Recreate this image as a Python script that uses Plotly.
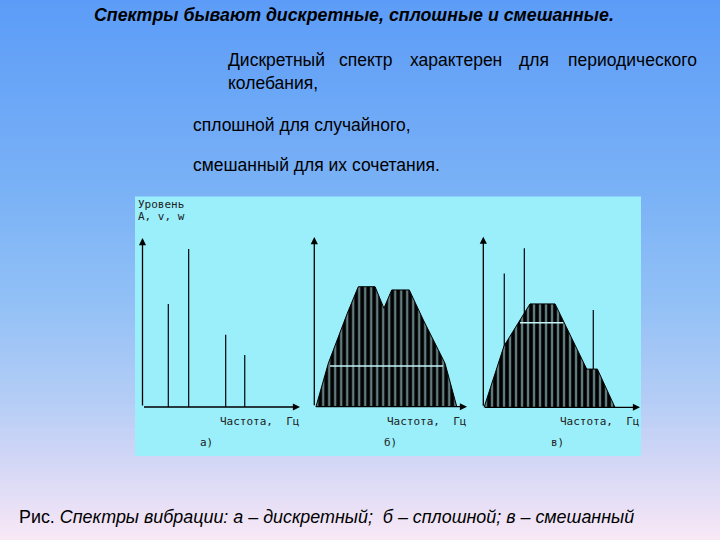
import plotly.graph_objects as go

W, H = 720, 540

# ---------------- data (frequency / level in relative units, axis arrow = 100) ----------------
# a) discrete spectrum
a_freq = [16.4, 29.3, 52.8, 64.9]
a_level = [61.0, 93.5, 42.8, 30.8]

# b) continuous spectrum envelope
b_freq = [1.1, 9.2, 21.6, 28.8, 39.8, 45.6, 50.7, 62.2, 71.4, 85.6, 93.3]
b_level = [0, 25.6, 55.0, 70.7, 70.7, 58.0, 68.8, 68.8, 51.1, 25.6, 0]
b_hline_freq = [10.3, 84.3]
b_hline_level = 24.0

# c) mixed spectrum: envelope + discrete components
c_freq = [0.5, 13.2, 29.8, 45.8, 66.0, 72.8, 84.0]
c_level = [0, 35.9, 60.6, 60.6, 22.4, 22.4, 0]
c_lines_freq = [13.4, 26.2, 70.2]
c_lines_level = [78.5, 93.2, 57.0]
c_hline_freq = [23.4, 50.9]
c_hline_level = 49.6

panel_letters = ["а)", "б)", "в)"]
x_label = "Частота,  Гц"
y_label = ["Уровень", "A, v, w"]

title_text = "Спектры бывают дискретные, сплошные и смешанные."
line1_words = ["Дискретный", "спектр", "характерен", "для", "периодического"]
line2_text = "колебания,"
line3_text = "сплошной для случайного,"
line4_text = "смешанный для их сочетания."
caption_plain = "Рис."
caption_italic = "Спектры вибрации: а – дискретный;  б – сплошной; в – смешанный"

# ---------------- layout geometry (pixels) ----------------
panels = [
    dict(ox=142.5, oy=407.0, sx=1.575, sy=1.69, letter_x=207),
    dict(ox=314.3, oy=406.7, sx=1.527, sy=1.697, letter_x=390),
    dict(ox=483.3, oy=407.3, sx=1.567, sy=1.706, letter_x=557),
]
XR = [-4, 104]
YR = [-6, 104]

def fx(px):
    return px / W

def fy(py):
    return 1 - py / H

fig = go.Figure()
layout_axes = {}
for i, p in enumerate(panels):
    n = "" if i == 0 else str(i + 1)
    xd = [fx(p["ox"] + XR[0] * p["sx"]), fx(p["ox"] + XR[1] * p["sx"])]
    yd = [fy(p["oy"] - YR[0] * p["sy"]), fy(p["oy"] - YR[1] * p["sy"])]
    layout_axes["xaxis" + n] = dict(domain=xd, range=XR, visible=False, fixedrange=True,
                                    anchor="y" + n)
    layout_axes["yaxis" + n] = dict(domain=yd, range=YR, visible=False, fixedrange=True,
                                    anchor="x" + n)

LINE_COL = "#0d1620"
STRIPE_COL = "#c0f4fa"
PANEL_BG = "#9aeffb"

def vlines(xs, ys):
    X, Y = [], []
    for x, y in zip(xs, ys):
        X += [x, x, None]
        Y += [0, y, None]
    return X, Y

PATTERN = dict(shape="|", fgcolor=STRIPE_COL, bgcolor="#000000", size=6, solidity=0.4)

# a) discrete lines
X, Y = vlines(a_freq, a_level)
fig.add_trace(go.Scatter(x=X, y=Y, mode="lines", line=dict(color=LINE_COL, width=1.3),
                         xaxis="x", yaxis="y", hoverinfo="skip"))

# b) continuous spectrum
fig.add_trace(go.Scatter(x=b_freq, y=b_level, mode="lines", fill="toself",
                         line=dict(color="#000000", width=1),
                         fillcolor="#000000", fillpattern=PATTERN,
                         xaxis="x2", yaxis="y2", hoverinfo="skip"))
fig.add_trace(go.Scatter(x=b_hline_freq, y=[b_hline_level] * 2, mode="lines",
                         line=dict(color="#c4f4f8", width=1.5),
                         xaxis="x2", yaxis="y2", hoverinfo="skip"))

# c) mixed: discrete lines under the envelope
X, Y = vlines(c_lines_freq, c_lines_level)
fig.add_trace(go.Scatter(x=X, y=Y, mode="lines", line=dict(color=LINE_COL, width=1.3),
                         xaxis="x3", yaxis="y3", hoverinfo="skip"))
fig.add_trace(go.Scatter(x=c_freq, y=c_level, mode="lines", fill="toself",
                         line=dict(color="#000000", width=1),
                         fillcolor="#000000", fillpattern=PATTERN,
                         xaxis="x3", yaxis="y3", hoverinfo="skip"))
fig.add_trace(go.Scatter(x=c_hline_freq, y=[c_hline_level] * 2, mode="lines",
                         line=dict(color="#c4f4f8", width=1.5),
                         xaxis="x3", yaxis="y3", hoverinfo="skip"))

# ---------------- background gradient + panel ----------------
stops = [(0, (92, 156, 248)), (200, (124, 179, 246)), (300, (145, 192, 246)),
         (400, (180, 205, 246)), (470, (215, 216, 246)), (540, (248, 232, 246))]

def grad(y):
    for (y0, c0), (y1, c1) in zip(stops[:-1], stops[1:]):
        if y0 <= y <= y1:
            t = (y - y0) / (y1 - y0)
            return "rgb(%d,%d,%d)" % tuple(round(a + (b - a) * t) for a, b in zip(c0, c1))
    return "rgb(%d,%d,%d)" % stops[-1][1]

shapes = []
band = 4
for k in range(0, H, band):
    shapes.append(dict(type="rect", xref="paper", yref="paper", x0=0, x1=1,
                       y0=fy(k + band), y1=fy(k), fillcolor=grad(k + band / 2),
                       line=dict(width=0), layer="below"))
shapes.append(dict(type="rect", xref="paper", yref="paper", x0=fx(135), x1=fx(641),
                   y0=fy(456), y1=fy(196.5), fillcolor=PANEL_BG, line=dict(width=0),
                   layer="below"))

# ---------------- annotations ----------------
ann = []
MONO = "DejaVu Sans Mono"
MONO_FONT = dict(family=MONO, size=11, color="#222222")
for i, p in enumerate(panels):
    n = "" if i == 0 else str(i + 1)
    for hx, hy in ((0, 100), (100, 0)):
        ann.append(dict(x=hx, y=hy, ax=0, ay=0, xref="x" + n, yref="y" + n,
                        axref="x" + n, ayref="y" + n, text="", showarrow=True,
                        arrowhead=2, arrowsize=1.1, arrowwidth=1.3, arrowcolor="#000000",
                        standoff=0, startstandoff=0))
    ax_end = p["ox"] + 100 * p["sx"]
    ann.append(dict(x=fx(ax_end + 1), y=fy(421), xref="paper", yref="paper",
                    text=x_label, showarrow=False, xanchor="right", yanchor="middle",
                    font=MONO_FONT))
    ann.append(dict(x=fx(p["letter_x"]), y=fy(442), xref="paper", yref="paper",
                    text=panel_letters[i], showarrow=False, xanchor="center", yanchor="middle",
                    font=MONO_FONT))

ann.append(dict(x=fx(136), y=fy(204), xref="paper", yref="paper", text=y_label[0],
                showarrow=False, xanchor="left", yanchor="middle", font=MONO_FONT))
ann.append(dict(x=fx(136), y=fy(216.5), xref="paper", yref="paper", text=y_label[1],
                showarrow=False, xanchor="left", yanchor="middle", font=MONO_FONT))

SANS = "Liberation Sans, Arial, sans-serif"
BODY = dict(family=SANS, size=17.5, color="#000000")
ann.append(dict(x=fx(92), y=fy(15), xref="paper", yref="paper",
                text="<b><i>" + title_text + "</i></b>", showarrow=False,
                xanchor="left", yanchor="middle", font=dict(family=SANS, size=17.8, color="#000000")))

word_x = [226, 337, 408, 517, 699]
for j, (w, xx) in enumerate(zip(line1_words, word_x)):
    ann.append(dict(x=fx(xx), y=fy(60), xref="paper", yref="paper", text=w, showarrow=False,
                    xanchor="right" if j == len(line1_words) - 1 else "left", yanchor="middle",
                    font=BODY))
ann.append(dict(x=fx(226), y=fy(83), xref="paper", yref="paper", text=line2_text,
                showarrow=False, xanchor="left", yanchor="middle", font=BODY))
ann.append(dict(x=fx(191), y=fy(125), xref="paper", yref="paper", text=line3_text,
                showarrow=False, xanchor="left", yanchor="middle", font=BODY))
ann.append(dict(x=fx(191), y=fy(165), xref="paper", yref="paper", text=line4_text,
                showarrow=False, xanchor="left", yanchor="middle", font=BODY))
ann.append(dict(x=fx(17), y=fy(517), xref="paper", yref="paper",
                text=caption_plain + " <i>" + caption_italic + "</i>",
                showarrow=False, xanchor="left", yanchor="middle",
                font=dict(family=SANS, size=17.9, color="#000000")))

fig.update_layout(
    width=W, height=H, margin=dict(l=0, r=0, t=0, b=0),
    paper_bgcolor="rgb(92,156,248)", plot_bgcolor="rgba(0,0,0,0)",
    showlegend=False, shapes=shapes, annotations=ann, **layout_axes,
)

fig.write_html("out.html")
